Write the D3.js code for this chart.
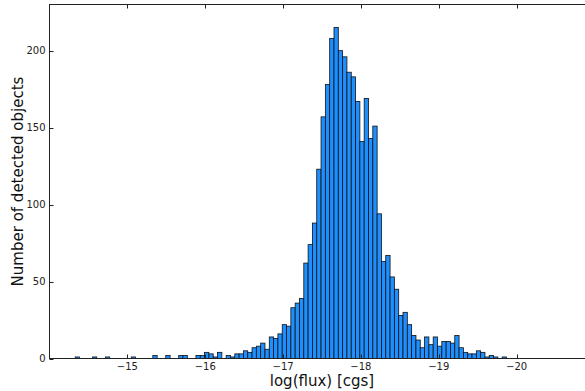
<!DOCTYPE html>
<html>
<head>
<meta charset="utf-8">
<script src="https://cdn.jsdelivr.net/npm/d3@7"></script>
<style>
  body { margin: 0; background: #fff; }
  svg { display: block; font-family: "DejaVu Sans", sans-serif; }
</style>
</head>
<body>
<svg id="chart" width="585" height="391"></svg>
<script>
// histogram counts, one per bin (100 bins)
const counts = [
  1, 0, 0, 0, 1, 0, 0, 1, 0, 0,
  0, 0, 0, 1, 0, 0, 0, 0, 2, 0,
  0, 2, 0, 0, 2, 2, 0, 0, 2, 2,
  4, 3, 1, 4, 0, 2, 1, 3, 3, 5,
  4, 7, 8, 10, 6, 14, 13, 16, 22, 21,
  33, 36, 39, 62, 74, 88, 123, 157, 178, 208,
  215, 200, 196, 186, 183, 167, 141, 169, 143, 151,
  94, 63, 67, 53, 45, 28, 30, 22, 15, 12,
  7, 14, 9, 14, 8, 11, 11, 10, 15, 7,
  4, 3, 3, 5, 4, 1, 2, 1, 0, 1
];
const binLo = -14.33, binHi = -19.87;
const xTicks = [-15, -16, -17, -18, -19, -20];
const yTicks = [0, 50, 100, 150, 200];
const xDomain = [-14, -21], yDomain = [0, 230];

const margin = { left: 49.5, top: 4.5, bottom: 358.5, right: 594.5 };
const svg = d3.select("#chart");

const x = d3.scaleLinear().domain(xDomain).range([margin.left, margin.right]);
const y = d3.scaleLinear().domain(yDomain).range([margin.bottom, margin.top]);

const step = (binHi - binLo) / counts.length;
const bins = counts.map((c, i) => ({ x0: binLo + i * step, x1: binLo + (i + 1) * step, n: c }));

svg.append("g")
  .selectAll("rect")
  .data(bins.filter(d => d.n > 0))
  .join("rect")
  .attr("x", d => x(d.x0))
  .attr("width", d => x(d.x1) - x(d.x0))
  .attr("y", d => y(d.n))
  .attr("height", d => y(0) - y(d.n))
  .attr("fill", "#1e8fff")
  .attr("stroke", "#111")
  .attr("stroke-width", 0.8);

// frame
svg.append("rect")
  .attr("x", margin.left).attr("y", margin.top)
  .attr("width", margin.right - margin.left)
  .attr("height", margin.bottom - margin.top)
  .attr("fill", "none").attr("stroke", "#222").attr("stroke-width", 1);

// inward ticks
const tl = 4;
const ax = svg.append("g").attr("stroke", "#222").attr("stroke-width", 1);
xTicks.forEach(t => {
  const px = Math.round(x(t)) + 0.5;
  ax.append("line").attr("x1", px).attr("x2", px).attr("y1", margin.bottom).attr("y2", margin.bottom - tl);
  ax.append("line").attr("x1", px).attr("x2", px).attr("y1", margin.top).attr("y2", margin.top + tl);
});
yTicks.forEach(t => {
  const py = Math.round(y(t)) + 0.5;
  ax.append("line").attr("x1", margin.left).attr("x2", margin.left + tl).attr("y1", py).attr("y2", py);
  ax.append("line").attr("x1", margin.right).attr("x2", margin.right - tl).attr("y1", py).attr("y2", py);
});

svg.append("g").selectAll("text")
  .data(xTicks).join("text")
  .attr("x", d => x(d)).attr("y", 370)
  .attr("text-anchor", "middle")
  .attr("font-size", 10).attr("fill", "#222")
  .text(d => "\u2212" + Math.abs(d));

svg.append("g").selectAll("text")
  .data(yTicks).join("text")
  .attr("x", margin.left - 4).attr("y", d => y(d) + 3.5)
  .attr("text-anchor", "end")
  .attr("font-size", 10).attr("fill", "#222")
  .text(d => d);

svg.append("text")
  .attr("x", (margin.left + margin.right) / 2).attr("y", 386)
  .attr("text-anchor", "middle").attr("font-size", 15).attr("fill", "#111")
  .text("log(flux) [cgs]");

svg.append("text")
  .attr("transform", `translate(23,${(margin.top + margin.bottom) / 2}) rotate(-90)`)
  .attr("text-anchor", "middle").attr("font-size", 15).attr("fill", "#111")
  .text("Number of detected objects");
</script>
</body>
</html>
